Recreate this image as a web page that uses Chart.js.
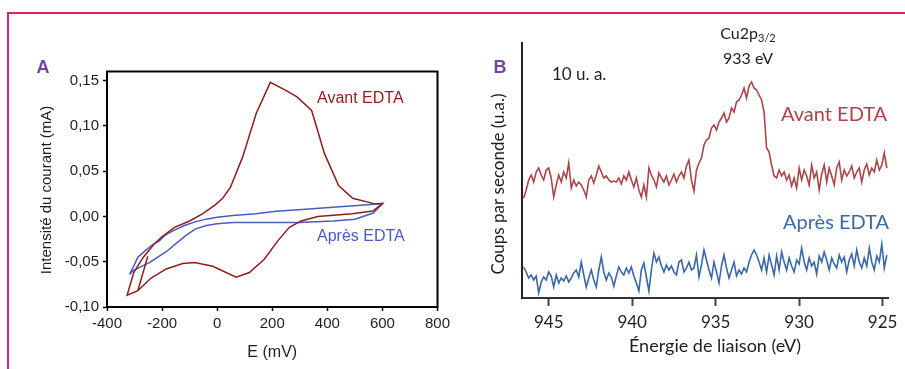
<!DOCTYPE html>
<html lang="fr">
<head>
<meta charset="utf-8">
<title>Voltammétrie cyclique et XPS Cu2p – avant / après EDTA</title>
<script src="https://cdn.jsdelivr.net/npm/chart.js@4.4.1/dist/chart.umd.min.js"></script>
<style>
  html, body { margin: 0; padding: 0; background: #fff; }
  #page { position: relative; width: 905px; height: 369px; overflow: hidden; }
  #frame {
    position: absolute; left: 7px; top: 12px; width: 920px; height: 400px;
    border-top: 2px solid #d02a6e; border-left: 2px solid #d02a6e;
  }
  #cvA { position: absolute; left: 0; top: 0; }
  #xpsB { position: absolute; left: 460px; top: 0; }
</style>
</head>
<body>
<div id="page">
  <div id="frame"></div>
  <canvas id="cvA" width="460" height="369"></canvas>
  <canvas id="xpsB" width="445" height="369"></canvas>
</div>

<script>
// ============================================================
// Panel A — cyclic voltammograms (E in mV, I in mA)
// Panel B — XPS Cu2p3/2 region (counts, arbitrary units)
// ============================================================

// ---------- Panel A data ----------
const avantE = [-252, -288, -327, -303, -268, -230, -203, -155, -100, -52, -6, 20, 48, 93, 142, 193,
  244, 290, 343, 390, 441, 492, 565, 599, 565, 490, 365, 305, 262, 220, 172, 117, 69, -16, -82,
  -125, -185, -240, -288];
const avantI = [-0.044, -0.082, -0.087, -0.062, -0.045, -0.031, -0.023, -0.012, -0.005, 0.003, 0.013,
  0.020, 0.032, 0.066, 0.114, 0.148, 0.140, 0.132, 0.117, 0.069, 0.034, 0.020, 0.0144, 0.0138, 0.006,
  0.003, 0.0, -0.005, -0.012, -0.027, -0.047, -0.062, -0.067, -0.055, -0.051, -0.052, -0.058, -0.068,
  -0.082];

const apresE = [-318, -300, -288, -262, -234, -210, -190, -161, -119, -80, -40, 0, 57, 140, 214, 320,
  420, 510, 580, 601, 567, 500, 420, 299, 150, 57, 0, -40, -80, -113, -150, -185, -246, -280, -306, -318];
const apresI = [-0.064, -0.053, -0.045, -0.038, -0.031, -0.027, -0.021, -0.016, -0.010, -0.006, -0.003,
  -0.001, 0.001, 0.003, 0.0056, 0.008, 0.010, 0.012, 0.0138, 0.0145, 0.0037, -0.003, -0.005, -0.0066,
  -0.0068, -0.0068, -0.008, -0.010, -0.014, -0.021, -0.030, -0.039, -0.051, -0.056, -0.060, -0.064];

const xTicksA = [-400, -200, 0, 200, 400, 600, 800];
const yTicksA = [-0.10, -0.05, 0, 0.05, 0.10, 0.15];

// ---------- Panel B data ----------
// sampling grid: 946.5 eV down to 924.75 eV, 0.15 eV per channel
const energyStart = 946.5;
const energyStep = 0.15;

const avantB = [
  100, 108, 118, 123, 116, 126, 130, 123, 118, 128,
  130, 120, 101, 113, 123, 116, 126, 120, 135, 110,
  118, 112, 116, 113, 108, 101, 118, 122, 115, 123,
  132, 126, 120, 122, 118, 116, 117, 116, 120, 114,
  122, 118, 126, 118, 111, 120, 108, 101, 113, 101,
  130, 123, 118, 111, 125, 120, 116, 122, 113, 118,
  124, 116, 122, 126, 120, 132, 138, 118, 107, 128,
  135, 140, 153, 158, 160, 170, 173, 168, 176, 180,
  185, 176, 180, 190, 186, 196, 198, 203, 210, 200,
  212, 216, 210, 208, 203, 198, 186, 150, 146, 133,
  122, 120, 128, 122, 126, 118, 123, 112, 120, 110,
  130, 118, 128, 122, 113, 133, 120, 126, 108, 124,
  133, 116, 130, 122, 113, 130, 136, 118, 128, 122,
  126, 132, 120, 126, 130, 116, 128, 134, 123, 130,
  126, 138, 128, 133, 145, 130
];

const apresB = [
  31, 26, 20, 23, 18, 22, 5, 16, 21, 18,
  26, 22, 11, 23, 15, 20, 17, 22, 16, 20,
  25, 28, 21, 36, 23, 11, 20, 28, 18, 11,
  28, 41, 26, 18, 25, 21, 12, 22, 31, 26,
  23, 30, 25, 31, 22, 15, 7, 28, 35, 21,
  7, 28, 45, 36, 41, 32, 26, 33, 28, 32,
  26, 23, 36, 38, 26, 30, 36, 28, 30, 43,
  21, 33, 48, 38, 28, 20, 36, 26, 15, 32,
  43, 30, 20, 28, 36, 22, 28, 24, 30, 26,
  36, 43, 48, 43, 36, 28, 40, 26, 43, 33,
  23, 42, 28, 46, 36, 28, 40, 32, 26, 38,
  34, 50, 36, 28, 40, 32, 36, 24, 42, 36,
  46, 38, 28, 40, 34, 30, 43, 36, 41, 26,
  38, 44, 32, 48, 36, 30, 40, 32, 50, 36,
  28, 42, 36, 54, 30, 43
];

const xTicksB = [945, 940, 935, 930, 925];

// ---------- Colours / fonts ----------
const RED_A = "#8b1e1e";
const BLUE_A = "#4b5bbd";
const RED_B = "#a9464b";
const BLUE_B = "#3c68a6";
const PURPLE = "#6f47a0";
const INK = "#1e1e1e";
const ARIAL = "'Liberation Sans', Arial, sans-serif";
const CALIBRI = "Lato, 'Open Sans', sans-serif";

Chart.defaults.font.family = ARIAL;
Chart.defaults.color = INK;

// ---------- Small plugins ----------
// full box round the plot area (panel A)
const boxPlugin = {
  id: "box",
  beforeDatasetsDraw(chart, args, opts) {
    if (!opts.color) return;
    const { left, top, right, bottom } = chart.chartArea;
    const ctx = chart.ctx;
    ctx.save();
    ctx.strokeStyle = opts.color;
    ctx.lineWidth = opts.width || 1;
    ctx.strokeRect(left, top, right - left, bottom - top);
    ctx.restore();
  }
};

// free text labels; optional subscript part
const textPlugin = {
  id: "texts",
  afterDraw(chart, args, opts) {
    const ctx = chart.ctx;
    (opts.items || []).forEach(t => {
      ctx.save();
      ctx.fillStyle = t.color || INK;
      ctx.textBaseline = "middle";
      ctx.translate(t.x, t.y);
      if (t.rotate) ctx.rotate(t.rotate);
      ctx.font = t.font;
      if (t.sub) {
        const mainW = ctx.measureText(t.text).width;
        ctx.font = t.subFont;
        const subW = ctx.measureText(t.sub).width;
        const x0 = t.align === "center" ? -(mainW + subW) / 2 : 0;
        ctx.textAlign = "left";
        ctx.font = t.font;
        ctx.fillText(t.text, x0, 0);
        ctx.font = t.subFont;
        ctx.fillText(t.sub, x0 + mainW, 4);
      } else {
        ctx.textAlign = t.align || "left";
        ctx.fillText(t.text, 0, 0);
      }
      ctx.restore();
    });
  }
};

function toPoints(xs, ys) {
  return xs.map((x, i) => ({ x, y: ys[i] }));
}

function commaDecimal(v) {
  return v.toFixed(2).replace(".", ",");
}

// ---------- Panel A ----------
new Chart(document.getElementById("cvA"), {
  type: "scatter",
  data: {
    datasets: [
      { label: "Avant EDTA", data: toPoints(avantE, avantI), showLine: true, borderColor: RED_A,
        borderWidth: 1.5, pointRadius: 0, tension: 0 },
      { label: "Après EDTA", data: toPoints(apresE, apresI), showLine: true, borderColor: BLUE_A,
        borderWidth: 1.5, pointRadius: 0, tension: 0 }
    ]
  },
  options: {
    responsive: false,
    animation: false,
    layout: { padding: { left: 0, top: 71.5, right: 22.5, bottom: 0 } },
    plugins: {
      legend: { display: false },
      tooltip: { enabled: false },
      box: { color: "#000", width: 2 },
      texts: {
        items: [
          { text: "A", x: 43, y: 68, font: "bold 18px " + ARIAL, color: PURPLE, align: "center" },
          { text: "Avant EDTA", x: 317, y: 99, font: "16px " + ARIAL, color: RED_A },
          { text: "Après EDTA", x: 317, y: 237, font: "16px " + ARIAL, color: BLUE_A },
          { text: "Intensité du courant (mA)", x: 47, y: 190, rotate: -Math.PI / 2, font: "15px " + ARIAL, align: "center" }
        ]
      }
    },
    scales: {
      x: {
        type: "linear", min: -400, max: 800,
        afterFit: s => { s.height = 62; },
        afterBuildTicks: s => { s.ticks = xTicksA.map(v => ({ value: v })); },
        border: { display: false },
        grid: { drawOnChartArea: false, tickLength: 4, tickWidth: 1.5, tickColor: "#000" },
        ticks: { font: { size: 15 }, color: INK, padding: 4, maxRotation: 0 },
        title: { display: true, text: "E (mV)", font: { size: 16 }, color: INK, padding: { top: 0, bottom: 7 } }
      },
      y: {
        min: -0.10, max: 0.16,
        afterFit: s => { s.width = 107; },
        afterBuildTicks: s => { s.ticks = yTicksA.map(v => ({ value: v })); },
        border: { display: false },
        grid: { drawOnChartArea: false, tickLength: 4, tickWidth: 1.5, tickColor: "#000" },
        ticks: { font: { size: 15 }, color: INK, padding: 4, callback: v => commaDecimal(v) }
      }
    }
  },
  plugins: [boxPlugin, textPlugin]
});

// ---------- Panel B ----------
const energies = avantB.map((_, i) => +(energyStart - i * energyStep).toFixed(2));

new Chart(document.getElementById("xpsB"), {
  type: "scatter",
  data: {
    datasets: [
      { label: "Avant EDTA", data: toPoints(energies, avantB), showLine: true, borderColor: RED_B,
        borderWidth: 1.6, pointRadius: 0, tension: 0 },
      { label: "Après EDTA", data: toPoints(energies, apresB), showLine: true, borderColor: BLUE_B,
        borderWidth: 1.6, pointRadius: 0, tension: 0 }
    ]
  },
  options: {
    responsive: false,
    animation: false,
    layout: { padding: { left: 0, top: 43, right: 16.7, bottom: 0 } },
    plugins: {
      legend: { display: false },
      tooltip: { enabled: false },
      texts: {
        items: [
          { text: "B", x: 40, y: 68, font: "bold 18px " + ARIAL, color: PURPLE, align: "center" },
          { text: "10 u. a.", x: 92, y: 75, font: "17px " + CALIBRI },
          { text: "Cu2p", sub: "3/2", x: 288, y: 34, font: "16px " + CALIBRI, subFont: "11px " + CALIBRI, align: "center" },
          { text: "933 eV", x: 288, y: 59, font: "16px " + CALIBRI, align: "center" },
          { text: "Avant EDTA", x: 321, y: 115, font: "20px " + CALIBRI, color: RED_B },
          { text: "Après EDTA", x: 323, y: 223, font: "20px " + CALIBRI, color: BLUE_B },
          { text: "Coups par seconde (u.a.)", x: 39, y: 184, rotate: -Math.PI / 2, font: "17px " + CALIBRI, align: "center" },
          { text: "Énergie de liaison (eV)", x: 255, y: 346, font: "18px " + CALIBRI, align: "center" }
        ]
      }
    },
    scales: {
      x: {
        type: "linear", reverse: true, min: 924.66, max: 946.6,
        afterFit: s => { s.height = 71; },
        afterBuildTicks: s => { s.ticks = xTicksB.map(v => ({ value: v })); },
        border: { color: "#333", width: 2 },
        grid: { drawOnChartArea: false, tickLength: 8, tickWidth: 2, tickColor: "#444" },
        ticks: { font: { family: CALIBRI, size: 17 }, color: INK, padding: 6, maxRotation: 0 }
      },
      y: {
        min: 0, max: 255,
        afterFit: s => { s.width = 62; },
        border: { color: "#222", width: 2 },
        grid: { display: false },
        ticks: { display: false }
      }
    }
  },
  plugins: [textPlugin]
});
</script>
</body>
</html>
